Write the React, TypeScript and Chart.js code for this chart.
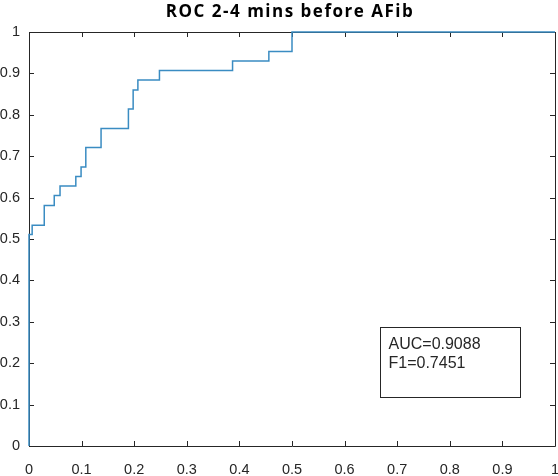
import React, { useEffect, useRef } from "react";
import { Chart, registerables } from "chart.js";

Chart.register(...registerables);

const TITLE = "ROC 2-4 mins before AFib";
const FPR = [0, 0, 0.006, 0.029, 0.048, 0.059, 0.089, 0.099, 0.108, 0.137, 0.189, 0.198, 0.207, 0.248, 0.387, 0.456, 0.5, 1];
const TPR = [0, 0.511, 0.533, 0.581, 0.605, 0.628, 0.651, 0.674, 0.721, 0.767, 0.814, 0.860, 0.884, 0.907, 0.930, 0.953, 1, 1];
const TICKS = [0, 0.1, 0.2, 0.3, 0.4, 0.5, 0.6, 0.7, 0.8, 0.9, 1];
const ANNOTATION_LINES = ["AUC=0.9088", "F1=0.7451"];
const ANNOTATION_BOX = { x0: 0.667, x1: 0.933, y0: 0.288, y1: 0.119 };

const AXIS_COLOR = "#262626";
const LINE_COLOR = "#3a8cc2";
const TICK_FONT = "Liberation Sans";

const fmt = (v: number) => String(Number(v.toFixed(1)));

const boxPlugin = {
  id: "matlabBox",
  beforeDatasetsDraw(chart: any) {
    const { ctx, chartArea: a, scales } = chart;
    const xs = scales.x, ys = scales.y;
    ctx.save();
    ctx.strokeStyle = AXIS_COLOR;
    ctx.lineWidth = 1;
    ctx.beginPath();
    ctx.rect(Math.round(a.left) + 0.5, Math.round(a.top) + 0.5, Math.round(a.right - a.left), Math.round(a.bottom - a.top));
    ctx.stroke();
    const L = 5;
    ctx.beginPath();
    for (const t of TICKS) {
      const px = Math.round(xs.getPixelForValue(t)) + 0.5;
      ctx.moveTo(px, a.bottom); ctx.lineTo(px, a.bottom - L);
      ctx.moveTo(px, a.top); ctx.lineTo(px, a.top + L);
      const py = Math.round(ys.getPixelForValue(t)) + 0.5;
      ctx.moveTo(a.left, py); ctx.lineTo(a.left + L, py);
      ctx.moveTo(a.right, py); ctx.lineTo(a.right - L, py);
    }
    ctx.stroke();
    ctx.restore();
  },
  afterDraw(chart: any) {
    const { ctx, scales } = chart;
    const xs = scales.x, ys = scales.y;
    const x0 = Math.round(xs.getPixelForValue(ANNOTATION_BOX.x0)) + 0.5;
    const x1 = Math.round(xs.getPixelForValue(ANNOTATION_BOX.x1)) + 0.5;
    const y0 = Math.round(ys.getPixelForValue(ANNOTATION_BOX.y0)) + 0.5;
    const y1 = Math.round(ys.getPixelForValue(ANNOTATION_BOX.y1)) + 0.5;
    ctx.save();
    ctx.fillStyle = "#ffffff";
    ctx.fillRect(x0, y0, x1 - x0, y1 - y0);
    ctx.strokeStyle = AXIS_COLOR;
    ctx.lineWidth = 1;
    ctx.strokeRect(x0, y0, x1 - x0, y1 - y0);
    ctx.fillStyle = AXIS_COLOR;
    ctx.font = `16px "${TICK_FONT}"`;
    ctx.textBaseline = "middle";
    ANNOTATION_LINES.forEach((s, i) => ctx.fillText(s, x0 + 8, y0 + 17 + i * 19));
    ctx.restore();
    // title
    const a = chart.chartArea;
    ctx.save();
    ctx.fillStyle = "#000000";
    ctx.font = `bold 17px "Open Sans"`;
    (ctx as any).letterSpacing = "1.5px";
    ctx.textAlign = "center";
    ctx.textBaseline = "middle";
    ctx.fillText(TITLE, (a.left + a.right) / 2 - 2, 12);
    ctx.restore();
  },
};

export default function App() {
  const ref = useRef<HTMLCanvasElement>(null);
  useEffect(() => {
    const chart = new Chart(ref.current!, {
      type: "scatter",
      data: {
        datasets: [
          {
            data: FPR.map((x, i) => ({ x, y: TPR[i] })),
            showLine: true,
            stepped: "before",
            borderColor: LINE_COLOR,
            borderWidth: 1.5,
            pointRadius: 0,
            fill: false,
            clip: 4,
          } as any,
        ],
      },
      options: {
        animation: false,
        responsive: false,
        maintainAspectRatio: false,
        layout: { padding: { top: 32, right: 3, left: 0, bottom: 0 } },
        plugins: { legend: { display: false }, tooltip: { enabled: false }, title: { display: false } },
        scales: {
          x: {
            type: "linear",
            min: 0,
            max: 1,
            grid: { display: false, drawTicks: false },
            border: { display: false },
            afterBuildTicks: (s: any) => { s.ticks = TICKS.map((v) => ({ value: v })); },
            afterFit: (s: any) => { s.height = 30; s.paddingLeft = 0; s.paddingRight = 0; },
            ticks: { color: AXIS_COLOR, font: { family: TICK_FONT, size: 14.5 }, padding: 15, maxRotation: 0, autoSkip: false, callback: (v: any) => fmt(Number(v)) },
          },
          y: {
            type: "linear",
            min: 0,
            max: 1,
            grid: { display: false, drawTicks: false },
            border: { display: false },
            afterBuildTicks: (s: any) => { s.ticks = TICKS.map((v) => ({ value: v })); },
            afterFit: (s: any) => { s.width = 29; s.paddingTop = 0; s.paddingBottom = 0; },
            ticks: { color: AXIS_COLOR, font: { family: TICK_FONT, size: 14.5 }, padding: 9, autoSkip: false, callback: (v: any) => fmt(Number(v)) },
          },
        },
      },
      plugins: [boxPlugin],
    });
    return () => chart.destroy();
  }, []);
  return (
    <div style={{ position: "absolute", left: 0, top: 0, width: 558, height: 476, background: "#fff" }}>
      <canvas ref={ref} width={558} height={476} style={{ width: 558, height: 476 }} />
    </div>
  );
}
